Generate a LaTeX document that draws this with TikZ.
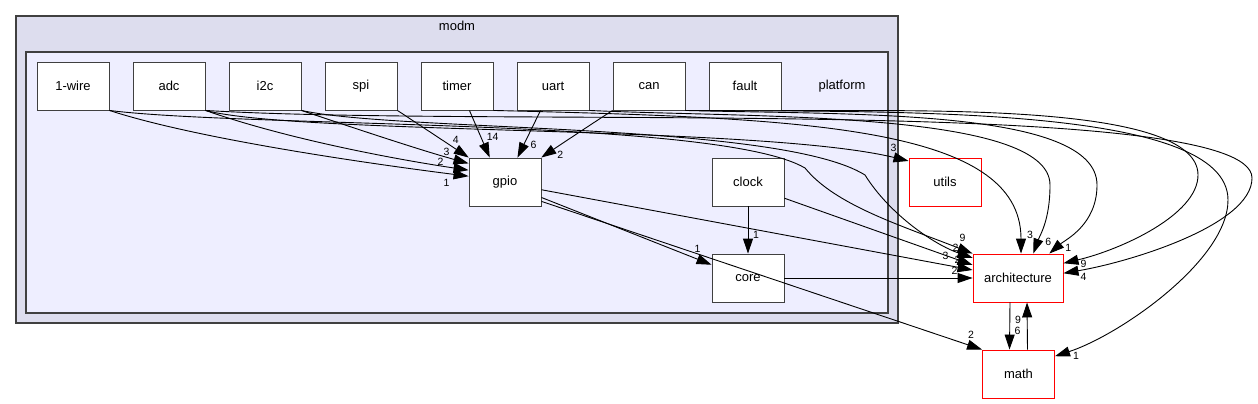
\documentclass[tikz,border=0pt]{standalone}
\usepackage{fontspec}
\setmainfont{Liberation Sans}
\usetikzlibrary{arrows.meta}
\definecolor{cluouter}{HTML}{DDDDEE}
\definecolor{cluinner}{HTML}{EEEEFF}
\definecolor{dirgray}{HTML}{404040}
\tikzset{
  >={Triangle[length=15pt,width=10pt]},
  % directories
  dn/.style={rectangle,draw=dirgray,fill=white,line width=0.9pt,inner sep=0pt,
             minimum width=72pt,minimum height=48pt,font=\fontsize{13}{15}\selectfont},
  dx/.style={dn,draw=red},
  clt/.style={inner sep=0pt,font=\fontsize{13}{15}\selectfont},
  outclu/.style={draw=dirgray,fill=cluouter,line width=1.3pt},
  inclu/.style={draw=dirgray,fill=cluinner,line width=1.3pt},
  % dependencies
  dep/.style={->,draw=black,line width=0.9pt},
  dl/.style={font=\fontsize{10.5}{12}\selectfont,inner sep=0pt},
}
\begin{document}
\begin{tikzpicture}[x=1pt,y=-1pt]
  \useasboundingbox (0,0) rectangle (1258,404);
  \draw[outclu] (16,16) rectangle (898,323);
  \node[clt] (modmlbl) at (457,26) {modm};
  \draw[inclu] (26,52) rectangle (888,313);
  \node[clt] (platlbl) at (842,86) {platform};
  \node[dn] (onewire) at (73,86) {1-wire};
  \node[dn] (adc) at (169,86) {adc};
  \node[dn] (i2c) at (265,86) {i2c};
  \node[dn] (spi) at (361,86) {spi};
  \node[dn] (timer) at (457,86) {timer};
  \node[dn] (uart) at (553,86) {uart};
  \node[dn] (can) at (649,86) {can};
  \node[dn] (fault) at (745,86) {fault};
  \node[dn] (gpio) at (505,182) {gpio};
  \node[dn] (clock) at (748,182) {clock};
  \node[dn] (core) at (748,278) {core};
  \node[dx] (utils) at (945,182) {utils};
  \node[dx,minimum width=90pt] (arch) at (1018,278) {architecture};
  \node[dx] (math) at (1018.5,374) {math};
  % into gpio
  \draw[dep] (onewire.south east) .. controls (200,140) and (380,165) .. (gpio.171) node[dl,at end,shift={(-22,7)}]{1};
  \draw[dep] (adc.south east) .. controls (290,140) and (400,160) .. (gpio.162) node[dl,at end,shift={(-28,-8)}]{2};
  \draw[dep] (i2c.south east) .. controls (360,130) and (420,150) .. (gpio.153) node[dl,at end,shift={(-22,-12)}]{3};
  \draw[dep] (spi.south east) -- (gpio.146) node[dl,at end,shift={(-13,-18)}]{4};
  \draw[dep] (timer.297) -- (gpio.122) node[dl,at end,shift={(3,-21)}]{14};
  \draw[dep] (uart.243) -- (gpio.63) node[dl,at end,shift={(16,-13)}]{6};
  \draw[dep] (can.south west) .. controls (590,125) and (560,145) .. (gpio.34) node[dl,at end,shift={(19,-3)}]{2};
  % inside platform
  \draw[dep] (gpio.-23) -- (core.160) node[dl,at end,shift={(-14,-16)}]{1};
  \draw[dep] (clock.south) -- (core.north) node[dl,at end,shift={(8,-19)}]{1};
  \draw[dep] (gpio.-12) -- (arch.170) node[dl,at end,shift={(-15,-10)}]{2};
  \draw[dep] (gpio.-28) -- (math.north west) node[dl,at end,shift={(-11,-15)}]{2};
  \draw[dep] (clock.-24) -- (arch.164) node[dl,at end,shift={(-27,-9)}]{3};
  \draw[dep] (core.east) -- (arch.west) node[dl,at end,shift={(-18,-7)}]{2};
  \draw[dep] (onewire.south east) .. controls (250,128) and (720,118) .. (805,168)
    .. controls (835,205) and (900,225) .. (arch.north west) node[dl,at end,shift={(-10,-16)}]{9};
  \draw[dep] (i2c.south east) .. controls (400,132) and (780,122) .. (865,175)
    .. controls (890,215) and (935,245) .. (arch.156) node[dl,at end,shift={(-17,-10)}]{2};
  \draw[dep] (adc.south east) .. controls (300,135) and (760,125) .. (utils.150) node[dl,at end,shift={(-15,-13)}]{3};
  % round the right
  \draw[dep] (timer.south east) .. controls (800,118) and (1021,125) .. (arch.83) node[dl,at end,shift={(9,-19)}]{3};
  \draw[dep] (uart.south east) .. controls (750,118) and (1050,110) .. (1050,185)
    .. controls (1050,220) and (1040,235) .. (arch.58) node[dl,at end,shift={(15,-12)}]{6};
  \draw[dep] (can.south east) .. controls (850,115) and (1097,108) .. (1097,185)
    .. controls (1097,225) and (1065,240) .. (arch.38) node[dl,at end,shift={(19,-6)}]{1};
  \draw[dep] (fault.south east) .. controls (900,112) and (1198,100) .. (1198,175)
    .. controls (1198,215) and (1120,250) .. (arch.18) node[dl,at end,shift={(20,1)}]{9};
  \draw[dep] (adc.south east) .. controls (500,128) and (1252,95) .. (1252,178)
    .. controls (1252,225) and (1130,262) .. (arch.6) node[dl,at end,shift={(20,4)}]{4};
  \draw[dep] (can.south east) .. controls (900,112) and (1228,105) .. (1228,200)
    .. controls (1228,260) and (1120,335) .. (math.26) node[dl,at end,shift={(21,0)}]{1};
  % architecture and math
  \draw[dep] ([xshift=-8pt]arch.south) -- ([xshift=-9pt]math.north) node[dl,at end,shift={(8,-19)}]{6};
  \draw[dep] ([xshift=9pt]math.north) -- ([xshift=9pt]arch.south) node[dl,at end,shift={(-9,17)}]{9};
\end{tikzpicture}
\end{document}
